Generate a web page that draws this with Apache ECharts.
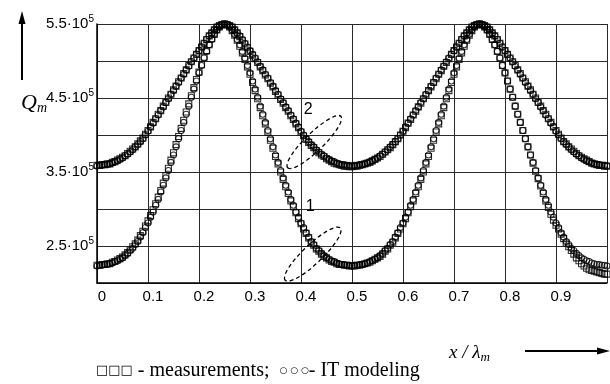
<!DOCTYPE html>
<html>
<head>
<meta charset="utf-8">
<script src="https://cdn.jsdelivr.net/npm/echarts@6/dist/echarts.min.js"></script>
<style>
  html, body { margin: 0; padding: 0; background: #fff; }
  #main { width: 610px; height: 384px; }
</style>
</head>
<body>
<div id="main"></div>
<script>
// x / lambda_m sampled every 0.005 from 0 to 1 (201 points per series)
var STEP = 0.005;

// Q_m in units of 10^5, curve 2 (upper)
var q2Model = [
  3.58,3.59,3.59,3.60,3.60,3.61,3.62,3.64,3.65,3.67,
  3.69,3.72,3.74,3.77,3.80,3.84,3.87,3.91,3.95,4.00,
  4.05,4.11,4.16,4.22,4.27,4.33,4.38,4.44,4.49,4.55,
  4.60,4.66,4.71,4.77,4.82,4.88,4.93,4.99,5.04,5.09,
  5.14,5.19,5.24,5.29,5.34,5.38,5.42,5.46,5.48,5.49,
  5.50,
  5.49,5.48,5.46,5.42,5.38,5.34,5.29,5.24,5.19,5.14,
  5.09,5.04,4.99,4.93,4.88,4.82,4.77,4.71,4.66,4.60,
  4.55,4.49,4.44,4.38,4.33,4.27,4.22,4.16,4.11,4.05,
  4.00,3.95,3.91,3.87,3.84,3.80,3.77,3.74,3.72,3.69,
  3.67,3.65,3.64,3.62,3.61,3.60,3.60,3.59,3.59,3.58,
  3.59,3.59,3.60,3.60,3.61,3.62,3.64,3.65,3.67,3.69,
  3.72,3.74,3.77,3.80,3.84,3.87,3.91,3.95,4.00,4.05,
  4.11,4.16,4.22,4.27,4.33,4.38,4.44,4.49,4.55,4.60,
  4.66,4.71,4.77,4.82,4.88,4.93,4.99,5.04,5.09,5.14,
  5.19,5.24,5.29,5.34,5.38,5.42,5.46,5.48,5.49,5.50,
  5.49,5.48,5.46,5.42,5.38,5.34,5.29,5.24,5.19,5.14,
  5.09,5.04,4.99,4.93,4.88,4.82,4.77,4.71,4.66,4.60,
  4.55,4.49,4.44,4.38,4.33,4.27,4.22,4.16,4.11,4.05,
  4.00,3.95,3.91,3.87,3.84,3.80,3.77,3.74,3.72,3.69,
  3.67,3.65,3.64,3.62,3.61,3.60,3.60,3.59,3.59,3.58
];
var q2Meas = [
  3.59,3.59,3.60,3.60,3.61,3.61,3.63,3.64,3.66,3.68,
  3.70,3.72,3.75,3.78,3.81,3.84,3.88,3.92,3.96,4.01,
  4.06,4.11,4.17,4.22,4.28,4.33,4.39,4.44,4.50,4.55,
  4.61,4.66,4.72,4.77,4.83,4.88,4.94,4.99,5.04,5.09,
  5.14,5.19,5.24,5.29,5.34,5.38,5.42,5.46,5.48,5.49,
  5.50,
  5.49,5.48,5.46,5.42,5.38,5.33,5.28,5.23,5.18,5.13,
  5.08,5.03,4.98,4.92,4.87,4.81,4.76,4.70,4.65,4.59,
  4.54,4.48,4.43,4.37,4.32,4.26,4.21,4.15,4.10,4.04,
  3.99,3.94,3.90,3.86,3.83,3.79,3.76,3.73,3.71,3.68,
  3.66,3.64,3.62,3.61,3.60,3.59,3.58,3.58,3.57,3.57,
  3.58,3.58,3.59,3.60,3.61,3.62,3.63,3.65,3.67,3.69,
  3.71,3.74,3.77,3.80,3.83,3.87,3.91,3.95,4.00,4.05,
  4.10,4.16,4.21,4.27,4.32,4.38,4.43,4.49,4.54,4.60,
  4.65,4.71,4.76,4.82,4.87,4.93,4.98,5.03,5.09,5.14,
  5.19,5.24,5.29,5.34,5.38,5.42,5.46,5.48,5.49,5.50,
  5.49,5.48,5.46,5.42,5.38,5.34,5.29,5.24,5.19,5.14,
  5.09,5.04,4.99,4.94,4.88,4.83,4.77,4.72,4.66,4.61,
  4.55,4.50,4.44,4.39,4.33,4.28,4.22,4.17,4.11,4.06,
  4.01,3.96,3.91,3.88,3.84,3.81,3.78,3.75,3.72,3.70,
  3.68,3.66,3.64,3.62,3.61,3.60,3.59,3.59,3.58,3.58
];

// curve 1 (lower, narrow peaks)
var q1Model = [
  2.23,2.24,2.24,2.25,2.25,2.26,2.27,2.29,2.30,2.32,
  2.34,2.37,2.40,2.44,2.47,2.52,2.56,2.62,2.68,2.75,
  2.81,2.89,2.96,3.05,3.13,3.23,3.32,3.42,3.52,3.63,
  3.73,3.84,3.95,4.06,4.17,4.28,4.39,4.51,4.62,4.73,
  4.84,4.94,5.04,5.13,5.22,5.29,5.36,5.42,5.46,5.49,
  5.50,
  5.49,5.46,5.42,5.36,5.29,5.22,5.13,5.04,4.94,4.84,
  4.73,4.62,4.51,4.39,4.28,4.17,4.06,3.95,3.84,3.73,
  3.63,3.52,3.42,3.32,3.23,3.13,3.05,2.96,2.89,2.81,
  2.75,2.68,2.62,2.56,2.52,2.47,2.44,2.40,2.37,2.34,
  2.32,2.30,2.29,2.27,2.26,2.25,2.25,2.24,2.24,2.23,
  2.24,2.24,2.25,2.25,2.26,2.27,2.29,2.30,2.32,2.34,
  2.37,2.40,2.44,2.47,2.52,2.56,2.62,2.68,2.75,2.81,
  2.89,2.96,3.05,3.13,3.23,3.32,3.42,3.52,3.63,3.73,
  3.84,3.95,4.06,4.17,4.28,4.39,4.51,4.62,4.73,4.84,
  4.94,5.04,5.13,5.22,5.29,5.36,5.42,5.46,5.49,5.50,
  5.49,5.46,5.42,5.36,5.29,5.22,5.13,5.04,4.94,4.84,
  4.73,4.62,4.51,4.39,4.28,4.17,4.06,3.95,3.84,3.73,
  3.63,3.52,3.42,3.32,3.23,3.13,3.05,2.96,2.89,2.81,
  2.75,2.68,2.62,2.56,2.52,2.47,2.44,2.40,2.37,2.34,
  2.32,2.30,2.29,2.27,2.26,2.25,2.25,2.24,2.24,2.23
];
var q1Meas = [
  2.24,2.24,2.25,2.25,2.26,2.26,2.28,2.29,2.31,2.33,
  2.35,2.38,2.41,2.45,2.49,2.53,2.58,2.64,2.70,2.77,
  2.84,2.91,2.99,3.07,3.16,3.25,3.35,3.45,3.55,3.66,
  3.76,3.87,3.98,4.09,4.20,4.31,4.42,4.53,4.64,4.75,
  4.85,4.95,5.05,5.14,5.22,5.30,5.36,5.42,5.46,5.49,
  5.50,
  5.49,5.46,5.41,5.35,5.28,5.20,5.11,5.02,4.92,4.82,
  4.71,4.60,4.49,4.37,4.26,4.15,4.04,3.93,3.82,3.71,
  3.61,3.50,3.40,3.30,3.21,3.11,3.03,2.95,2.87,2.80,
  2.73,2.67,2.61,2.55,2.51,2.46,2.43,2.39,2.36,2.34,
  2.31,2.29,2.28,2.26,2.25,2.25,2.24,2.24,2.23,2.23,
  2.23,2.24,2.24,2.25,2.26,2.27,2.28,2.30,2.32,2.34,
  2.36,2.39,2.43,2.46,2.51,2.55,2.61,2.67,2.73,2.80,
  2.87,2.95,3.03,3.11,3.21,3.30,3.40,3.50,3.61,3.71,
  3.82,3.93,4.04,4.15,4.26,4.37,4.49,4.60,4.71,4.82,
  4.92,5.02,5.11,5.20,5.28,5.35,5.41,5.46,5.49,5.50,
  5.49,5.46,5.42,5.36,5.29,5.22,5.13,5.04,4.94,4.84,
  4.73,4.62,4.51,4.39,4.28,4.17,4.06,3.95,3.84,3.73,
  3.62,3.51,3.41,3.31,3.21,3.11,3.02,2.93,2.85,2.78,
  2.73,2.66,2.60,2.54,2.49,2.44,2.39,2.34,2.30,2.26,
  2.23,2.20,2.18,2.17,2.16,2.15,2.14,2.13,2.12,2.12
];

var xLabels = ['0', '0.1', '0.2', '0.3', '0.4', '0.5', '0.6', '0.7', '0.8', '0.9'];
var yLabels = [5.5, 4.5, 3.5, 2.5];

function toPairs(arr) {
  return arr.map(function (v, i) { return [+(i * STEP).toFixed(3), v]; });
}

var myChart = echarts.init(document.getElementById('main'));

var squareStyle = { color: 'rgba(0,0,0,0)', borderColor: '#000', borderWidth: 1.1 };
var circleStyle = { color: 'rgba(0,0,0,0)', borderColor: '#000', borderWidth: 1.1 };

var option = {
  animation: false,
  backgroundColor: '#fff',
  grid: { left: 97, top: 24, width: 514, height: 259 },
  xAxis: {
    type: 'value',
    min: 0,
    max: 1,
    interval: 0.1,
    axisLine: { show: true, onZero: false, lineStyle: { color: '#000', width: 1.5 } },
    axisTick: { show: false },
    splitLine: { show: true, lineStyle: { color: '#2a2a2a', width: 1 } },
    axisLabel: {
      color: '#000',
      fontSize: 15,
      fontFamily: 'Liberation Sans',
      margin: 6,
      padding: [0, 0, 0, 10],
      formatter: function (v) {
        var i = Math.round(v * 10);
        return i < xLabels.length ? xLabels[i] : '';
      }
    }
  },
  yAxis: {
    type: 'value',
    min: 2,
    max: 5.5,
    interval: 0.5,
    axisLine: { show: true, lineStyle: { color: '#000', width: 1.5 } },
    axisTick: { show: false },
    splitLine: { show: true, lineStyle: { color: '#2a2a2a', width: 1 } },
    axisLabel: {
      margin: 3,
      formatter: function (v) {
        if (yLabels.indexOf(v) < 0) return '';
        return '{a|' + v.toFixed(1) + '·10}{s|5}';
      },
      rich: {
        a: { fontSize: 15, fontFamily: 'Liberation Sans', color: '#000', lineHeight: 20 },
        s: { fontSize: 10, fontFamily: 'Liberation Sans', color: '#000', lineHeight: 12, verticalAlign: 'top' }
      }
    }
  },
  series: [
    { type: 'scatter', name: 'measurements 2', data: toPairs(q2Meas), symbol: 'rect', symbolSize: 6, itemStyle: squareStyle, silent: true },
    { type: 'scatter', name: 'IT modeling 2', data: toPairs(q2Model), symbol: 'circle', symbolSize: 6, itemStyle: circleStyle, silent: true },
    { type: 'scatter', name: 'measurements 1', data: toPairs(q1Meas), symbol: 'rect', symbolSize: 6, itemStyle: squareStyle, silent: true },
    { type: 'scatter', name: 'IT modeling 1', data: toPairs(q1Model), symbol: 'circle', symbolSize: 6, itemStyle: circleStyle, silent: true }
  ]
};

myChart.setOption(option);

// annotations: curve numbers with dashed ellipses, axis names, arrows, caption
var p2 = myChart.convertToPixel({ gridIndex: 0 }, [0.414, 4.35]);
var e2 = myChart.convertToPixel({ gridIndex: 0 }, [0.426, 3.905]);
var p1 = myChart.convertToPixel({ gridIndex: 0 }, [0.418, 3.03]);
var e1 = myChart.convertToPixel({ gridIndex: 0 }, [0.423, 2.39]);

var dashed = { fill: 'none', stroke: '#000', lineWidth: 1.3, lineDash: [4, 3] };
var serif = 'Liberation Serif';

myChart.setOption({
  graphic: [
    { type: 'text', x: p2[0], y: p2[1], style: { text: '2', font: '16px Liberation Sans', fill: '#000', align: 'center', verticalAlign: 'middle' } },
    { type: 'text', x: p1[0], y: p1[1], style: { text: '1', font: '16px Liberation Sans', fill: '#000', align: 'center', verticalAlign: 'middle' } },
    { type: 'ellipse', x: e2[0], y: e2[1], rotation: 0.77, shape: { cx: 0, cy: 0, rx: 37, ry: 9 }, style: dashed },
    { type: 'ellipse', x: e1[0], y: e1[1], rotation: 0.76, shape: { cx: 0, cy: 0, rx: 38, ry: 9.5 }, style: dashed },
    // Q_m with up arrow
    { type: 'line', shape: { x1: 22, y1: 80, x2: 22, y2: 20 }, style: { stroke: '#000', lineWidth: 2 } },
    { type: 'polygon', shape: { points: [[22, 11], [18.5, 24], [25.5, 24]] }, style: { fill: '#000' } },
    {
      type: 'text', x: 21, y: 103,
      style: {
        text: '{q|Q}{m|m}',
        verticalAlign: 'middle',
        rich: {
          q: { fontFamily: serif, fontStyle: 'italic', fontSize: 22, fill: '#000', lineHeight: 24 },
          m: { fontFamily: serif, fontStyle: 'italic', fontSize: 14, fill: '#000', lineHeight: 14, verticalAlign: 'bottom' }
        }
      }
    },
    // x / lambda_m with right arrow
    {
      type: 'text', x: 449, y: 353,
      style: {
        text: '{a|x / λ}{m|m}',
        verticalAlign: 'middle',
        rich: {
          a: { fontFamily: serif, fontStyle: 'italic', fontSize: 19, fill: '#000', lineHeight: 22 },
          m: { fontFamily: serif, fontStyle: 'italic', fontSize: 13, fill: '#000', lineHeight: 12, verticalAlign: 'bottom' }
        }
      }
    },
    { type: 'line', shape: { x1: 525, y1: 351, x2: 600, y2: 351 }, style: { stroke: '#000', lineWidth: 2 } },
    { type: 'polygon', shape: { points: [[610, 351], [597, 347.5], [597, 354.5]] }, style: { fill: '#000' } },
    // caption
    {
      type: 'text', x: 96, y: 371,
      style: {
        text: '{sq|□□□} - measurements;  {ci|○ ○ ○}- IT modeling',
        verticalAlign: 'middle',
        font: '20px Liberation Serif',
        fill: '#000',
        rich: {
          sq: { fontFamily: 'DejaVu Sans', fontSize: 13, fill: '#000' },
          ci: { fontFamily: 'DejaVu Sans', fontSize: 9, fill: '#000' }
        }
      }
    }
  ]
});
</script>
</body>
</html>
